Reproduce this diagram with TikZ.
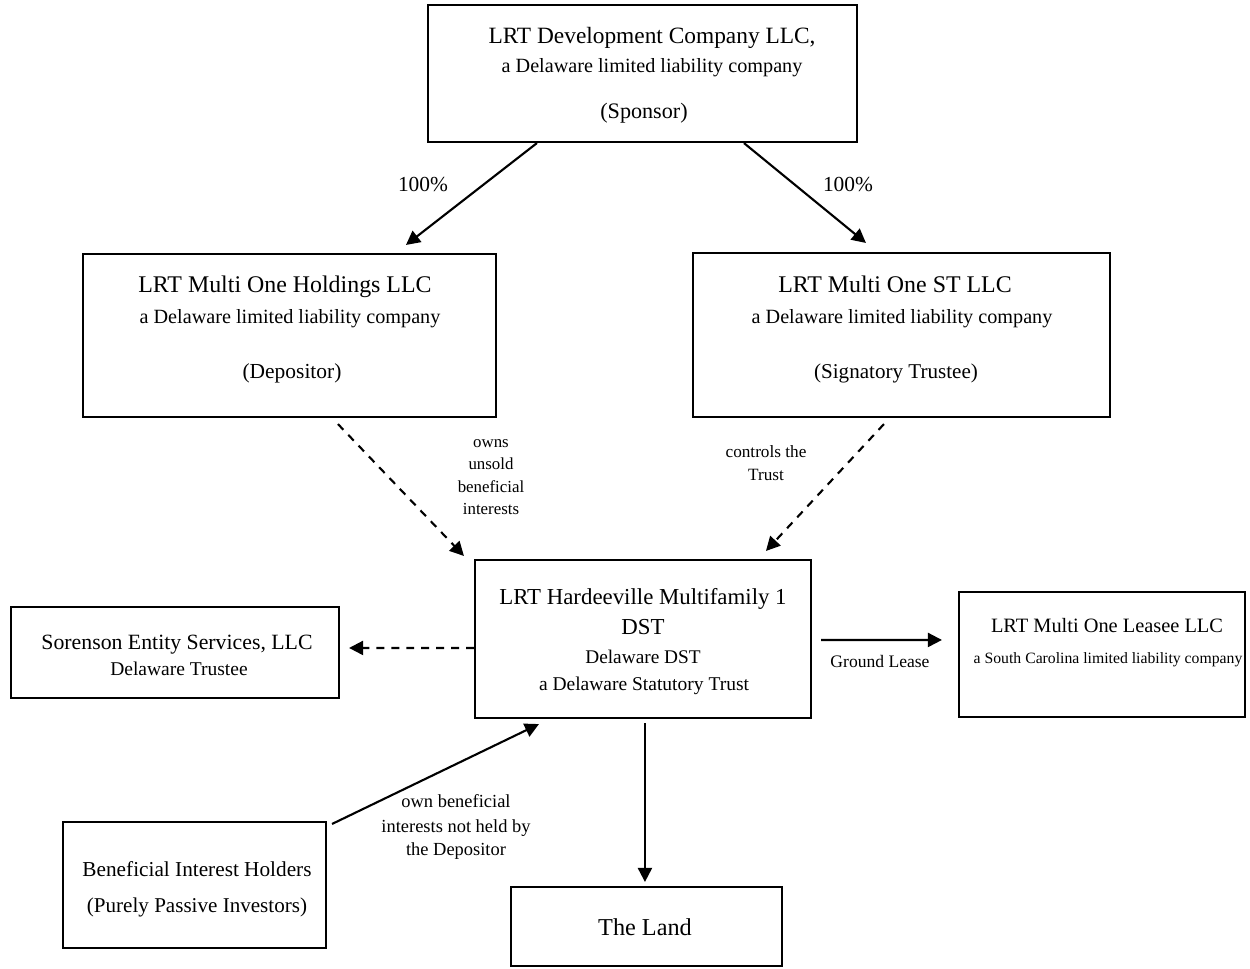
\documentclass[tikz,border=0pt]{standalone}
\usepackage{fontspec}
\setmainfont{Liberation Serif}
\usetikzlibrary{arrows.meta,fit,calc}
\newcommand\fz[1]{\fontsize{#1}{#1}\selectfont}
\begin{document}
\begin{tikzpicture}[x=0.02cm,y=-0.02cm,
  box/.style={draw,line width=1.2pt,inner sep=0pt},
  txt/.style={anchor=base,inner sep=0pt},
  arr/.style={line width=1.2pt,-{Triangle[length=8pt,width=8pt]}},
  darr/.style={arr,dash pattern=on 4.5pt off 4pt}]
\useasboundingbox[fill=white] (0,0) rectangle (1250,968);
% boxes
\node[box,fit={(428,5)(857,142)}] (spon) {};
\node[box,fit={(83,254)(496,417)}] (hold) {};
\node[box,fit={(693,253)(1110,417)}] (st) {};
\node[box,fit={(475,560)(811,718)}] (trust) {};
\node[box,fit={(11,607)(339,698)}] (soren) {};
\node[box,fit={(959,592)(1245,717)}] (lease) {};
\node[box,fit={(63,822)(326,948)}] (bene) {};
\node[box,fit={(511,887)(782,966)}] (land) {};
% texts
\node[txt,font=\fz{13.3}] (sp1) at (652,43) {LRT Development Company LLC,};
\node[txt,font=\fz{11.5}] (sp2) at (652,72) {a Delaware limited liability company};
\node[txt,font=\fz{12.6}] (sp3) at (644,118) {(Sponsor)};
\node[txt,font=\fz{13.6}] (ho1) at (285,292) {LRT Multi One Holdings LLC};
\node[txt,font=\fz{11.5}] (ho2) at (290,323) {a Delaware limited liability company};
\node[txt,font=\fz{12.2}] (ho3) at (292,378) {(Depositor)};
\node[txt,font=\fz{13.6}] (st1) at (895,292) {LRT Multi One ST LLC};
\node[txt,font=\fz{11.5}] (st2) at (902,323) {a Delaware limited liability company};
\node[txt,font=\fz{12}] (st3) at (896,378) {(Signatory Trustee)};
\node[txt,font=\fz{13}] (tr1) at (643,604) {LRT Hardeeville Multifamily 1};
\node[txt,font=\fz{13}] (tr2) at (643,634) {DST};
\node[txt,font=\fz{11}] (tr3) at (643,663) {Delaware DST};
\node[txt,font=\fz{11.1}] (tr4) at (644,690) {a Delaware Statutory Trust};
\node[txt,font=\fz{12.4}] (so1) at (177,649) {Sorenson Entity Services, LLC};
\node[txt,font=\fz{11.1}] (so2) at (179,675) {Delaware Trustee};
\node[txt,font=\fz{11.6}] (le1) at (1107,632) {LRT Multi One Leasee LLC};
\node[txt,font=\fz{8.95}] (le2) at (1108,663) {a South Carolina limited liability company};
\node[txt,font=\fz{12.1}] (be1) at (197,876) {Beneficial Interest Holders};
\node[txt,font=\fz{12}] (be2) at (197,912) {(Purely Passive Investors)};
\node[txt,font=\fz{13.8}] (la1) at (645,935) {The Land};
% connector labels
\node[txt,font=\fz{12.2}] (l1) at (423,191) {100\%};
\node[txt,font=\fz{12.2}] (l2) at (848,191) {100\%};
\node[txt,font=\fz{9.6}] (l3a) at (491,447) {owns};
\node[txt,font=\fz{9.6}] (l3b) at (491,469) {unsold};
\node[txt,font=\fz{9.6}] (l3c) at (491,492) {beneficial};
\node[txt,font=\fz{9.6}] (l3d) at (491,514) {interests};
\node[txt,font=\fz{9.8}] (l4a) at (766,457) {controls the};
\node[txt,font=\fz{9.8}] (l4b) at (766,480) {Trust};
\node[txt,font=\fz{10}] (l5) at (880,667) {Ground Lease};
\node[txt,font=\fz{10.5}] (l6a) at (456,807) {own beneficial};
\node[txt,font=\fz{10.5}] (l6b) at (456,832) {interests not held by};
\node[txt,font=\fz{10.5}] (l6c) at (456,855) {the Depositor};
% connectors
\draw[arr] ($(spon.south west)+(110,0)$) -- ($(hold.north west)+(324,-8)$);
\draw[arr] ($(spon.south west)+(317,0)$) -- ($(st.north west)+(174,-9)$);
\draw[darr] ($(hold.south west)+(256,6)$) -- ($(trust.north west)+(-10,-3)$);
\draw[darr] ($(st.south west)+(192,6)$) -- ($(trust.north west)+(292,-8)$);
\draw[darr] ($(trust.north west)+(0,89)$) -- ($(soren.north east)+(9,42)$);
\draw[arr] ($(trust.north east)+(9,81)$) -- ($(lease.north west)+(-16,49)$);
\draw[arr] ($(trust.south west)+(171,4)$) -- ($(land.north west)+(135,-4)$);
\draw[arr] ($(bene.north east)+(5,3)$) -- ($(trust.south west)+(65,5)$);
\end{tikzpicture}
\end{document}
